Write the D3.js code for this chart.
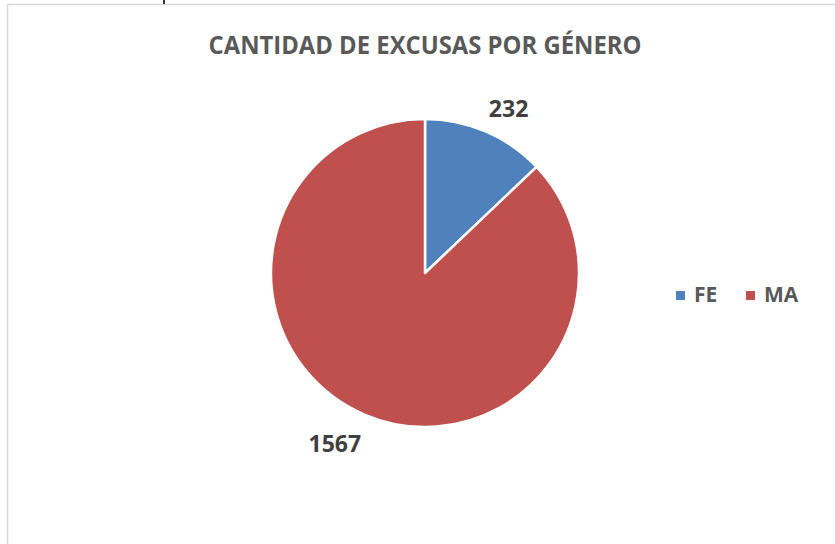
<!DOCTYPE html>
<html>
<head>
<meta charset="utf-8">
<script src="https://cdn.jsdelivr.net/npm/d3@7"></script>
<style>
  body { margin: 0; background: #fff; }
  svg { display: block; font-family: "Open Sans", "DejaVu Sans", sans-serif; }
</style>
</head>
<body>
<script>
let title = 'CANTIDAD DE EXCUSAS POR GÉNERO',
    categories = ['FE', 'MA'],
    values = [232, 1567],
    colors = ['#4F81BD', '#C0504D'];

let w = 835, h = 544;
let cx = 425, cy = 273, r = 154;

let svg = d3.select('body')
  .append('svg')
  .attr('width', w)
  .attr('height', h);

// chart frame (left + top edges only visible)
svg.append('path')
  .attr('d', `M7.5,${h} V4.5 H${w}`)
  .attr('fill', 'none')
  .attr('stroke', '#d9d9d9')
  .attr('stroke-width', 1.5);

// little mark above frame
svg.append('rect')
  .attr('x', 163).attr('y', 0).attr('width', 2).attr('height', 4)
  .attr('fill', '#333');

svg.append('text')
  .text(title)
  .attr('x', cx)
  .attr('y', 54)
  .attr('text-anchor', 'middle')
  .attr('textLength', 433)
  .attr('lengthAdjust', 'spacingAndGlyphs')
  .style('font-size', '25px')
  .style('font-weight', 'bold')
  .style('fill', '#595959');

let pie = d3.pie().sort(null).value(d => d);
let arcs = pie(values);
let arc = d3.arc().innerRadius(0).outerRadius(r);

let g = svg.append('g').attr('transform', `translate(${cx},${cy})`);

g.selectAll('path')
  .data(arcs)
  .enter()
  .append('path')
  .attr('d', arc)
  .attr('fill', (d, i) => colors[i])
  .attr('stroke', '#fff')
  .attr('stroke-width', 2.5)
  .attr('stroke-linejoin', 'round');

// data labels outside end
g.selectAll('text.lbl')
  .data(arcs)
  .enter()
  .append('text')
  .attr('class', 'lbl')
  .text(d => d.value)
  .each(function (d) {
    let a = (d.startAngle + d.endAngle) / 2;
    let s = Math.sin(a), c = Math.cos(a);
    let px = (r + 8) * s, py = -(r + 8) * c;
    let t = d3.select(this);
    t.attr('text-anchor', s >= 0 ? 'start' : 'end')
     .attr('x', px)
     .attr('y', c >= 0 ? py - 7 : py + 30);
  })
  .style('font-size', '23px')
  .style('font-weight', 'bold')
  .style('fill', '#404040');

// legend
let lx = d3.scalePoint().domain(categories).range([676, 746]);
let leg = svg.selectAll('g.leg')
  .data(categories)
  .enter()
  .append('g')
  .attr('class', 'leg')
  .attr('transform', d => `translate(${lx(d)},291)`);

leg.append('rect')
  .attr('width', 9)
  .attr('height', 9)
  .attr('fill', (d, i) => colors[i]);

leg.append('text')
  .text(d => d)
  .attr('x', 18)
  .attr('y', 11)
  .style('font-size', '21px')
  .style('font-weight', 'bold')
  .style('fill', '#595959');
</script>
</body>
</html>
